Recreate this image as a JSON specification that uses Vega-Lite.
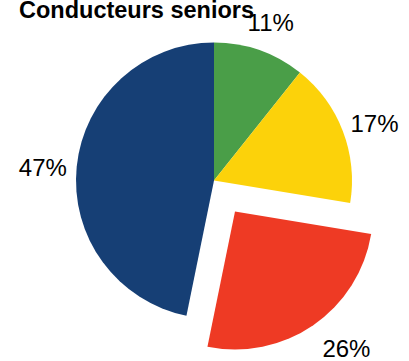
{
  "$schema": "https://vega.github.io/schema/vega-lite/v6.json",
  "width": 390,
  "height": 361,
  "autosize": {"type": "none"},
  "padding": {"left": 19, "top": 0, "right": 0, "bottom": 0},
  "title": {
    "text": "Conducteurs seniors",
    "anchor": "start",
    "frame": "group",
    "font": "Liberation Sans",
    "fontSize": 23.5,
    "fontWeight": "bold",
    "color": "#000000",
    "baseline": "alphabetic",
    "offset": -41
  },
  "data": {
    "values": [
      {"rank": 1, "share": 10.7, "label": "11%", "color": "green"},
      {"rank": 2, "share": 16.9, "label": "17%", "color": "yellow"},
      {"rank": 3, "share": 25.6, "label": "26%", "color": "red"},
      {"rank": 4, "share": 46.8, "label": "47%", "color": "blue"}
    ]
  },
  "encoding": {
    "theta": {"field": "share", "type": "quantitative", "stack": true},
    "order": {"field": "rank", "type": "quantitative"}
  },
  "layer": [
    {
      "mark": {"type": "arc", "radius": 138, "stroke": null},
      "encoding": {
        "color": {
          "field": "color", "type": "nominal", "legend": null,
          "scale": {"domain": ["green", "yellow", "red", "blue"], "range": ["#4A9E48", "#FCD20A", "#EE3A24", "#163F75"]}
        },
        "opacity": {"condition": {"test": "datum.rank === 3", "value": 0}, "value": 1}
      }
    },
    {
      "mark": {"type": "arc", "radius": 138, "xOffset": 21, "yOffset": 31},
      "encoding": {
        "color": {
          "field": "color", "type": "nominal", "legend": null,
          "scale": {"domain": ["green", "yellow", "red", "blue"], "range": ["#4A9E48", "#FCD20A", "#EE3A24", "#163F75"]}
        },
        "opacity": {"condition": {"test": "datum.rank === 3", "value": 1}, "value": 0}
      }
    },
    {
      "mark": {"type": "text", "radius": 172, "yOffset": 6, "font": "Liberation Sans", "fontSize": 24, "color": "#000000"},
      "encoding": {
        "text": {"field": "label"},
        "opacity": {"condition": {"test": "datum.rank === 3", "value": 0}, "value": 1}
      }
    },
    {
      "mark": {"type": "text", "radius": 170, "xOffset": 36, "yOffset": 29, "font": "Liberation Sans", "fontSize": 24, "color": "#000000"},
      "encoding": {
        "text": {"field": "label"},
        "opacity": {"condition": {"test": "datum.rank === 3", "value": 1}, "value": 0}
      }
    }
  ]
}
